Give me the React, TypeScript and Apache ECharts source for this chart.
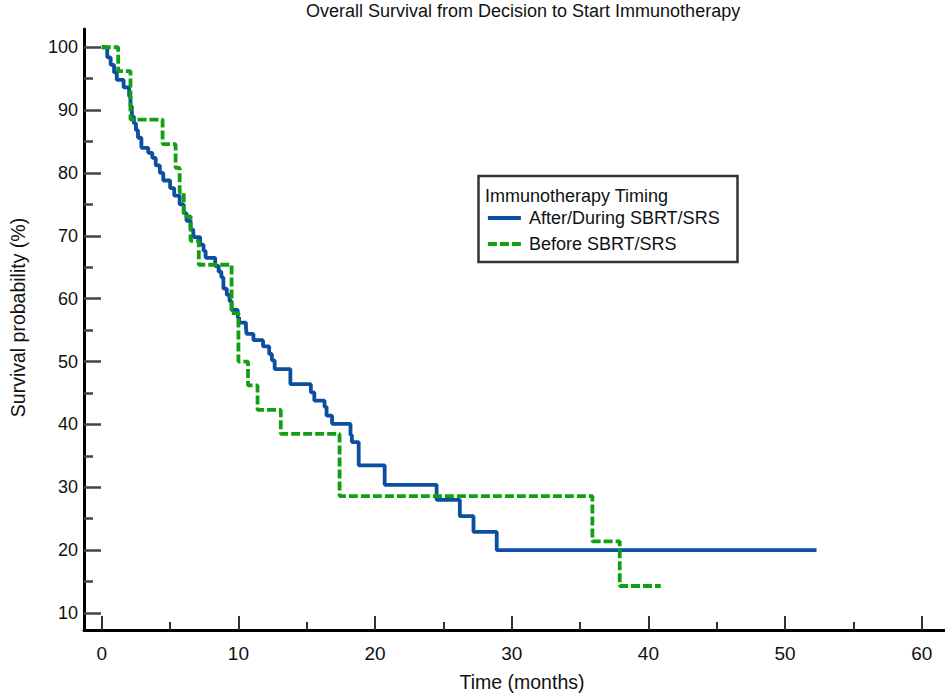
import React, { useEffect, useRef } from "react";
import * as echarts from "echarts";

const chartTitle = "Overall Survival from Decision to Start Immunotherapy";
const xAxisTitle = "Time (months)";
const yAxisTitle = "Survival probability (%)";
const legendTitle = "Immunotherapy Timing";
const seriesNames = ["After/During SBRT/SRS", "Before SBRT/SRS"];

// [time (months), survival (%)] — Kaplan-Meier steps
const afterDuringData: [number, number][] = [
  [0, 100], [0.4, 98.4], [0.65, 97.2], [0.9, 96.0], [1.1, 94.8], [1.6, 93.6],
  [2.0, 92.2], [2.1, 90.6], [2.2, 89.0], [2.35, 87.9], [2.5, 86.8], [2.65, 85.6],
  [2.9, 84.0], [3.4, 83.2], [3.7, 82.4], [3.95, 81.2], [4.25, 80.0], [4.5, 78.8],
  [5.0, 77.6], [5.3, 76.4], [5.7, 75.0], [6.0, 73.6], [6.2, 72.4], [6.5, 71.0],
  [6.7, 69.8], [7.2, 68.6], [7.45, 67.6], [7.6, 66.5], [8.3, 65.2], [8.55, 64.3],
  [8.75, 63.4], [8.9, 61.6], [9.15, 60.6], [9.35, 59.6], [9.5, 58.2], [9.95, 57.0],
  [10.05, 56.2], [10.55, 55.3], [10.6, 54.4], [11.1, 53.4], [11.8, 52.4], [12.25, 51.2],
  [12.45, 50.2], [12.65, 48.8], [13.8, 46.4], [15.3, 45.1], [15.55, 43.8], [16.3, 42.8],
  [16.45, 41.4], [16.85, 40.1], [18.2, 38.3], [18.3, 37.2], [18.8, 33.5], [20.7, 30.4],
  [24.5, 28.0], [26.2, 25.4], [27.2, 22.9], [28.9, 20.0], [52.3, 20.0],
];

const beforeData: [number, number][] = [
  [0, 100], [1.2, 96.2], [2.1, 88.5], [4.45, 84.6], [5.4, 80.8], [5.7, 76.9],
  [6.0, 73.1], [6.5, 69.2], [7.1, 65.4], [9.5, 57.7], [10.0, 50.0], [10.7, 46.2],
  [11.4, 42.3], [13.1, 38.5], [17.4, 28.6], [35.9, 21.4], [37.9, 14.3], [40.9, 14.3],
];

const xMajorTicks = [0, 10, 20, 30, 40, 50, 60];
const xMinorTicks = [5, 15, 25, 35, 45, 55];
const yMajorTicks = [10, 20, 30, 40, 50, 60, 70, 80, 90, 100];
const yMinorTicks = [15, 25, 35, 45, 55, 65, 75, 85, 95];

const FONT = "'Liberation Sans', Arial, sans-serif";
const BLUE = "#0c4ea0";
const GREEN = "#12a012";
const LINE_W = 3.8;
const DASH = [9, 3];

export default function App() {
  const ref = useRef<HTMLDivElement>(null);

  useEffect(() => {
    if (!ref.current) return;
    const chart = echarts.init(ref.current, null, { renderer: "svg" });
    const xRange = { min: -1.3, max: 61.7 };
    const yRange = { min: 7.3, max: 102.9 };
    chart.setOption({
      animation: false,
      backgroundColor: "#ffffff",
      title: {
        text: chartTitle,
        left: 306,
        top: 2,
        padding: 0,
        textStyle: { fontFamily: FONT, fontSize: 18, fontWeight: "normal", color: "#111" },
      },
      grid: { left: 78, right: 0, top: 29, bottom: 65, containLabel: false },
      legend: {
        left: 486,
        top: 208,
        orient: "vertical",
        itemWidth: 33,
        itemHeight: 14,
        itemGap: 6,
        padding: 0,
        data: [
          {
            name: seriesNames[0],
            lineStyle: { color: BLUE, width: LINE_W, type: "solid" },
          },
          {
            name: seriesNames[1],
            lineStyle: { color: GREEN, width: LINE_W, type: DASH },
          },
        ],
        itemStyle: { color: "transparent", borderColor: "transparent", borderWidth: 0, opacity: 0 },
        textStyle: {
          fontFamily: FONT,
          fontSize: 18,
          color: "#111",
          lineHeight: 20,
          padding: [0, 0, 0, 3],
        },
      },
      graphic: [
        {
          type: "rect",
          z: 0,
          shape: { x: 478.5, y: 176, width: 259, height: 86 },
          style: { fill: "#ffffff", stroke: "#333333", lineWidth: 2.5 },
        },
        {
          type: "text",
          z: 1,
          x: 485,
          y: 196,
          style: {
            text: legendTitle,
            fontFamily: FONT,
            fontSize: 18,
            fill: "#111",
            textVerticalAlign: "middle",
            verticalAlign: "middle",
          },
        },
      ],
      xAxis: [
        {
          type: "value",
          ...xRange,
          position: "bottom",
          offset: 0,
          splitLine: { show: false },
          axisLine: { show: true, onZero: false, lineStyle: { color: "#000", width: 3 } },
          axisTick: {
            show: true,
            inside: true,
            length: 14,
            customValues: xMajorTicks,
            lineStyle: { color: "#333", width: 2 },
          },
          axisLabel: {
            show: true,
            customValues: xMajorTicks,
            margin: 14,
            fontFamily: FONT,
            fontSize: 19,
            color: "#111",
          },
          name: xAxisTitle,
          nameLocation: "middle",
          nameGap: 42,
          nameTextStyle: {
            fontFamily: FONT,
            fontSize: 19.5,
            color: "#111",
            padding: [0, 0, 0, 15],
          },
        },
        {
          type: "value",
          ...xRange,
          position: "bottom",
          offset: 0,
          splitLine: { show: false },
          axisLine: { show: false, onZero: false },
          axisTick: {
            show: true,
            inside: true,
            length: 8,
            customValues: xMinorTicks,
            lineStyle: { color: "#333", width: 2 },
          },
          axisLabel: { show: false },
        },
      ],
      yAxis: [
        {
          type: "value",
          ...yRange,
          position: "left",
          offset: 0,
          splitLine: { show: false },
          axisLine: { show: true, onZero: false, lineStyle: { color: "#000", width: 3 } },
          axisTick: {
            show: true,
            inside: true,
            length: 17,
            customValues: yMajorTicks,
            lineStyle: { color: "#444", width: 2.5 },
          },
          axisLabel: {
            show: true,
            customValues: yMajorTicks,
            margin: 6,
            fontFamily: FONT,
            fontSize: 18,
            color: "#111",
          },
          name: yAxisTitle,
          nameLocation: "middle",
          nameGap: 56,
          nameTextStyle: {
            fontFamily: FONT,
            fontSize: 19.5,
            color: "#111",
            padding: [0, 0, 0, 24],
          },
        },
        {
          type: "value",
          ...yRange,
          position: "left",
          offset: 0,
          splitLine: { show: false },
          axisLine: { show: false, onZero: false },
          axisTick: {
            show: true,
            inside: true,
            length: 9,
            customValues: yMinorTicks,
            lineStyle: { color: "#444", width: 2.5 },
          },
          axisLabel: { show: false },
        },
      ],
      series: [
        {
          name: seriesNames[0],
          type: "line",
          step: "end",
          xAxisIndex: 0,
          yAxisIndex: 0,
          symbol: "none",
          showSymbol: false,
          data: afterDuringData,
          color: BLUE,
          lineStyle: { color: BLUE, width: LINE_W, type: "solid" },
          z: 3,
        },
        {
          name: seriesNames[1],
          type: "line",
          step: "end",
          xAxisIndex: 0,
          yAxisIndex: 0,
          symbol: "none",
          showSymbol: false,
          data: beforeData,
          color: GREEN,
          lineStyle: { color: GREEN, width: LINE_W, type: DASH },
          z: 4,
        },
      ],
    });
    return () => chart.dispose();
  }, []);

  return (
    <div
      ref={ref}
      style={{ position: "absolute", left: 0, top: 0, width: 945, height: 697, background: "#fff" }}
    />
  );
}
